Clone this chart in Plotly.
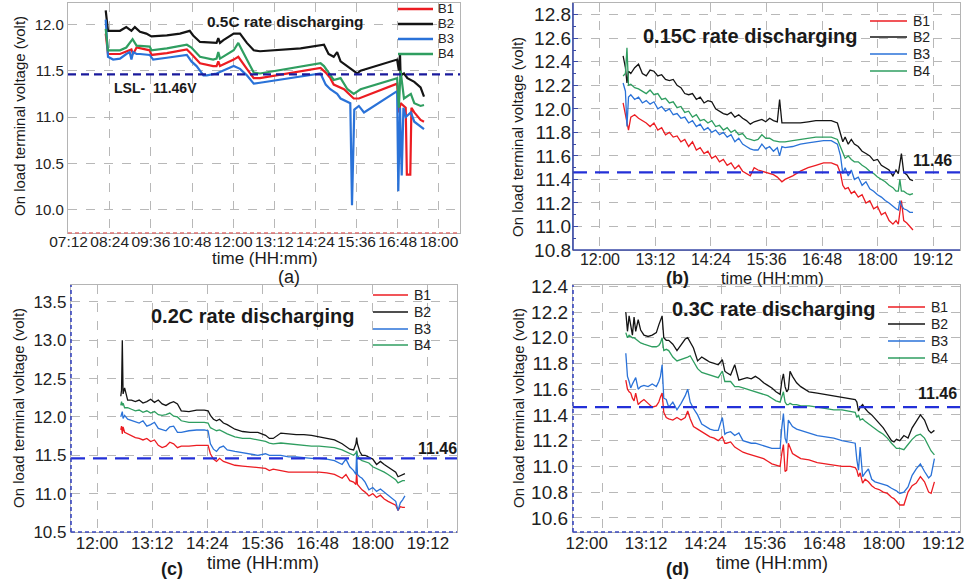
import plotly.graph_objects as go

W, H = 966, 580
FONT = "Liberation Sans, Arial, sans-serif"

series_names = ["B1", "B2", "B3", "B4"]
colors = {"B1": "#ec1c22", "B2": "#141414", "B3": "#2a72d8", "B4": "#2f9e60"}

time_ticks_a = ["07:12", "08:24", "09:36", "10:48", "12:00", "13:12", "14:24", "15:36", "16:48", "18:00"]
time_ticks_bcd = ["12:00", "13:12", "14:24", "15:36", "16:48", "18:00", "19:12"]
volt_ticks_a = [10.0, 10.5, 11.0, 11.5, 12.0]
volt_ticks_b = [10.8, 11.0, 11.2, 11.4, 11.6, 11.8, 12.0, 12.2, 12.4, 12.6, 12.8]
volt_ticks_c = [10.5, 11.0, 11.5, 12.0, 12.5, 13.0, 13.5]
volt_ticks_d = [10.6, 10.8, 11.0, 11.2, 11.4, 11.6, 11.8, 12.0, 12.2, 12.4]
lsl_value = 11.46
panel_titles = ["0.5C rate discharging", "0.15C rate discharging",
                "0.2C rate discharging", "0.3C rate discharging"]
panel_letters = ["(a)", "(b)", "(c)", "(d)"]

# ---------------- Panel (a): 0.5C (time in minutes after midnight) ----------------
a_t_B1 = [497, 501, 522, 542, 545, 551, 574, 577, 604, 639, 647, 662, 685, 691, 694, 697, 721, 729, 744, 756,
          767, 873, 882, 890, 896, 914, 931, 940, 1007, 1010, 1013, 1022, 1024, 1030, 1032, 1037, 1048, 1054]
a_v_B1 = [11.90, 11.68, 11.68, 11.73, 11.68, 11.75, 11.72, 11.67, 11.69, 11.73, 11.68, 11.58, 11.55, 11.55, 11.60,
          11.55, 11.62, 11.65, 11.52, 11.42, 11.42, 11.53, 11.48, 11.42, 11.35, 11.30, 11.20, 11.20, 11.36, 11.05,
          11.15, 11.10, 10.38, 10.38, 11.10, 11.05, 10.97, 10.95]
a_t_B2 = [497, 501, 522, 533, 542, 548, 557, 568, 577, 604, 627, 644, 650, 662, 691, 694, 697, 703, 721, 732,
          744, 756, 767, 838, 879, 887, 896, 902, 908, 920, 931, 937, 943, 1007, 1010, 1012, 1013, 1019, 1025, 1037,
          1048, 1054]
a_v_B2 = [12.15, 11.93, 11.93, 11.97, 11.93, 11.97, 11.92, 11.90, 11.87, 11.88, 11.90, 11.93, 11.88, 11.81, 11.80,
          11.85, 11.80, 11.83, 11.90, 11.90, 11.80, 11.72, 11.71, 11.74, 11.78, 11.68, 11.65, 11.70, 11.60, 11.55,
          11.50, 11.47, 11.50, 11.62, 11.50, 11.68, 11.45, 11.47, 11.42, 11.38, 11.32, 11.22]
a_t_B3 = [497, 501, 510, 522, 533, 539, 542, 545, 551, 557, 574, 580, 604, 639, 647, 656, 662, 668, 674, 691,
          721, 732, 744, 756, 767, 873, 882, 890, 902, 908, 925, 928, 932, 940, 949, 1007, 1009, 1012, 1015, 1018,
          1022, 1031, 1037, 1048, 1054]
a_v_B3 = [12.05, 11.65, 11.62, 11.63, 11.68, 11.70, 11.62, 11.70, 11.68, 11.68, 11.67, 11.62, 11.64, 11.67, 11.60,
          11.55, 11.50, 11.45, 11.45, 11.47, 11.55, 11.52, 11.45, 11.36, 11.37, 11.47, 11.35, 11.30, 11.25, 11.20,
          11.15, 10.05, 11.08, 11.12, 11.05, 11.28, 10.20, 11.10, 10.37, 11.10, 11.00, 11.05, 10.95, 10.90, 10.87]
a_t_B4 = [497, 501, 522, 533, 544, 551, 574, 577, 604, 639, 647, 662, 685, 691, 694, 697, 721, 729, 744, 756,
          767, 873, 879, 890, 896, 908, 920, 931, 943, 1007, 1010, 1013, 1019, 1031, 1037, 1048, 1054]
a_v_B4 = [11.95, 11.72, 11.72, 11.75, 11.84, 11.77, 11.76, 11.72, 11.74, 11.78, 11.75, 11.65, 11.62, 11.63, 11.70,
          11.63, 11.72, 11.80, 11.62, 11.48, 11.47, 11.58, 11.55, 11.45, 11.40, 11.42, 11.30, 11.25, 11.30, 11.42,
          11.10, 11.50, 11.20, 11.25, 11.15, 11.12, 11.13]

# ---------------- Panel (b): 0.15C ----------------
b_time = [750, 753, 755, 757, 760, 765, 770, 775, 780, 785, 790, 795, 800, 805, 810, 815, 820, 825, 830, 835,
          840, 845, 850, 855, 860, 865, 870, 875, 880, 885, 890, 895, 900, 905, 910, 915, 920, 925, 930, 935,
          940, 945, 950, 953, 956, 960, 970, 980, 990, 1000, 1010, 1020, 1028, 1032, 1035, 1038, 1042, 1046, 1050,
          1055, 1060, 1065, 1070, 1075, 1080, 1085, 1090, 1095, 1100, 1104, 1107, 1109, 1111, 1114, 1118, 1122,
          1126]
b_B1 = [12.05, 11.95, 11.88, 11.82, 11.93, 11.95, 11.92, 11.90, 11.88, 11.85,
        11.88, 11.82, 11.84, 11.78, 11.80, 11.76, 11.77, 11.72, 11.74, 11.68,
        11.72, 11.65, 11.67, 11.62, 11.64, 11.58, 11.60, 11.55, 11.57, 11.52,
        11.54, 11.49, 11.52, 11.47, 11.45, 11.43, 11.50, 11.48, 11.47, 11.46,
        11.45, 11.44, 11.42, 11.40, 11.38, 11.40, 11.43, 11.47, 11.50, 11.52,
        11.54, 11.54, 11.52, 11.45, 11.35, 11.32, 11.33, 11.28, 11.30, 11.25,
        11.27, 11.20, 11.22, 11.15, 11.17, 11.10, 11.12, 11.05, 11.02, 11.05,
        11.02, 11.12, 11.22, 11.05, 11.03, 11.00, 10.97]
b_B2 = [12.45, 12.35, 12.22, 12.32, 12.30, 12.35, 12.38, 12.30, 12.28, 12.33,
        12.32, 12.28, 12.29, 12.25, 12.24, 12.25, 12.20, 12.18, 12.13, 12.12,
        12.13, 12.08, 12.10, 12.05, 12.07, 12.06, 12.00, 11.98, 11.96, 11.95,
        11.97, 11.93, 11.95, 11.92, 11.90, 11.87, 11.89, 11.90, 11.91, 11.89,
        11.92, 11.90, 11.89, 12.08, 11.88, 11.88, 11.88, 11.88, 11.89, 11.90,
        11.90, 11.90, 11.88, 11.80, 11.72, 11.76, 11.70, 11.74, 11.70, 11.68,
        11.64, 11.62, 11.60, 11.56, 11.57, 11.52, 11.50, 11.48, 11.43, 11.48,
        11.45, 11.55, 11.62, 11.46, 11.44, 11.40, 11.39]
b_B3 = [12.22, 12.15, 11.85, 12.10, 12.12, 12.08, 12.10, 12.05, 12.07, 12.04,
        12.06, 12.00, 12.02, 11.98, 12.00, 11.95, 11.96, 11.92, 11.93, 11.88,
        11.90, 11.85, 11.87, 11.82, 11.84, 11.80, 11.82, 11.78, 11.80, 11.76,
        11.78, 11.72, 11.75, 11.70, 11.68, 11.66, 11.65, 11.65, 11.70, 11.66,
        11.68, 11.64, 11.67, 11.60, 11.68, 11.67, 11.68, 11.70, 11.71, 11.72,
        11.73, 11.73, 11.70, 11.60, 11.45, 11.50, 11.43, 11.48, 11.40, 11.42,
        11.35, 11.38, 11.32, 11.30, 11.27, 11.25, 11.22, 11.20, 11.17, 11.15,
        11.14, 11.22, 11.18, 11.15, 11.14, 11.12, 11.12]
b_B4 = [12.28, 12.30, 12.52, 12.20, 12.21, 12.18, 12.17, 12.15, 12.13, 12.16,
        12.12, 12.13, 12.08, 12.09, 12.05, 12.06, 12.01, 12.02, 11.97, 11.98,
        11.93, 11.95, 11.90, 11.91, 11.88, 11.90, 11.85, 11.86, 11.82, 11.84,
        11.80, 11.82, 11.78, 11.79, 11.75, 11.74, 11.73, 11.74, 11.78, 11.75,
        11.75, 11.73, 11.72, 11.72, 11.72, 11.72, 11.73, 11.74, 11.75, 11.76,
        11.76, 11.76, 11.74, 11.68, 11.62, 11.58, 11.60, 11.57, 11.55, 11.55,
        11.52, 11.50, 11.47, 11.45, 11.42, 11.40, 11.38, 11.35, 11.33, 11.30,
        11.30, 11.40, 11.30, 11.30, 11.28, 11.27, 11.28]

# ---------------- Panel (c): 0.2C ----------------
c_time = [751, 752, 753, 754, 756, 760, 765, 770, 775, 780, 785, 790, 795, 800, 805, 810, 815, 820, 825, 830,
          840, 850, 860, 865, 868, 872, 876, 880, 885, 890, 900, 910, 920, 930, 940, 945, 950, 960, 970, 980,
          990, 1000, 1010, 1020, 1030, 1040, 1045, 1050, 1055, 1058, 1059, 1060, 1063, 1066, 1070, 1075, 1080,
          1085, 1090, 1095, 1100, 1105, 1110, 1113, 1116, 1119, 1122]
c_B1 = [11.83, 11.88, 11.78, 11.87, 11.80, 11.78, 11.75, 11.73, 11.72, 11.70,
        11.72, 11.68, 11.70, 11.63, 11.60, 11.62, 11.67, 11.65, 11.60, 11.62,
        11.62, 11.63, 11.63, 11.63, 11.52, 11.45, 11.42, 11.46, 11.42, 11.40,
        11.37, 11.36, 11.35, 11.34, 11.33, 11.30, 11.32, 11.30, 11.28, 11.28,
        11.28, 11.28, 11.28, 11.27, 11.25, 11.20, 11.25, 11.17, 11.15, 11.12,
        11.28, 11.12, 11.08, 11.05, 11.02, 10.97, 11.00, 10.95, 10.98, 10.93,
        10.90, 10.88, 10.85, 10.78, 10.83, 10.82, 10.82]
c_B2 = [12.27, 12.35, 13.00, 12.30, 12.38, 12.22, 12.22, 12.20, 12.22, 12.18,
        12.20, 12.23, 12.19, 12.22, 12.17, 12.15, 12.18, 12.20, 12.17, 12.08,
        12.07, 12.09, 12.09, 12.08, 12.02, 11.97, 11.95, 11.97, 11.92, 11.90,
        11.84, 11.81, 11.80, 11.80, 11.76, 11.72, 11.72, 11.79, 11.78, 11.77,
        11.77, 11.76, 11.74, 11.72, 11.70, 11.65, 11.62, 11.58, 11.57, 11.65,
        11.73, 11.65, 11.55, 11.50, 11.50, 11.48, 11.45, 11.38, 11.42, 11.38,
        11.35, 11.32, 11.28, 11.22, 11.23, 11.24, 11.26]
c_B3 = [12.00, 12.05, 12.07, 11.98, 12.02, 11.97, 11.95, 11.93, 11.92, 11.95,
        11.88, 11.90, 11.93, 11.85, 11.83, 11.82, 11.87, 11.88, 11.80, 11.80,
        11.82, 11.83, 11.83, 11.82, 11.65, 11.58, 11.55, 11.60, 11.62, 11.57,
        11.55, 11.53, 11.52, 11.50, 11.52, 11.50, 11.50, 11.50, 11.48, 11.48,
        11.47, 11.46, 11.46, 11.45, 11.43, 11.38, 11.45, 11.35, 11.30, 11.25,
        11.55, 11.25, 11.22, 11.20, 11.15, 11.05, 11.08, 11.03, 11.06, 11.02,
        10.98, 10.95, 10.90, 10.78, 10.88, 10.92, 10.97]
c_B4 = [12.15, 12.20, 12.15, 12.18, 12.12, 12.12, 12.10, 12.08, 12.09, 12.06,
        12.08, 12.05, 12.07, 12.03, 12.02, 12.03, 12.05, 12.01, 12.00, 11.95,
        11.93, 11.93, 11.93, 11.92, 11.86, 11.84, 11.82, 11.83, 11.80, 11.78,
        11.74, 11.72, 11.72, 11.70, 11.68, 11.66, 11.65, 11.66, 11.65, 11.64,
        11.63, 11.62, 11.62, 11.61, 11.60, 11.57, 11.55, 11.52, 11.50, 11.53,
        11.56, 11.50, 11.45, 11.43, 11.42, 11.40, 11.35, 11.33, 11.30, 11.28,
        11.25, 11.22, 11.18, 11.14, 11.16, 11.17, 11.17]

# ---------------- Panel (d): 0.3C ----------------
d_time = [748, 750, 752, 754, 756, 758, 760, 763, 766, 770, 775, 780, 785, 788, 790, 792, 794, 797, 800, 805,
          810, 815, 820, 823, 826, 830, 835, 840, 845, 850, 855, 860, 865, 868, 870, 875, 880, 885, 890, 895,
          900, 905, 910, 915, 920, 925, 930, 935, 937, 939, 941, 943, 945, 947, 950, 955, 960, 970, 980, 990,
          1000, 1010, 1020, 1026, 1028, 1030, 1032, 1035, 1038, 1042, 1046, 1050, 1055, 1060, 1065, 1070, 1073,
          1076, 1080, 1085, 1090, 1095, 1100, 1105, 1110, 1115, 1118, 1122]
d_B1 = [11.67, 11.60, 11.58, 11.57, 11.53, 11.51, 11.57, 11.48, 11.50, 11.52,
        11.49, 11.46, 11.47, 11.50, 11.54, 11.57, 11.42, 11.38, 11.37, 11.36,
        11.38, 11.36, 11.38, 11.43, 11.37, 11.31, 11.29, 11.27, 11.25, 11.23,
        11.22, 11.20, 11.23, 11.18, 11.18, 11.19, 11.15, 11.13, 11.11, 11.10,
        11.09, 11.08, 11.07, 11.06, 11.04, 11.02, 11.01, 11.00, 11.10, 11.17,
        10.96, 10.97, 11.18, 11.15, 11.10, 11.08, 11.06, 11.05, 11.03, 11.02,
        11.01, 11.00, 11.00, 10.99, 10.97, 10.92, 10.95, 10.87, 10.90, 10.88,
        10.85, 10.83, 10.82, 10.80, 10.79, 10.76, 10.75, 10.73, 10.70, 10.70,
        10.80, 10.85, 10.87, 10.92, 10.88, 10.80, 10.79, 10.88]
d_B2 = [12.20, 12.05, 12.17, 12.08, 12.02, 12.16, 12.05, 12.14, 12.06, 12.02,
        12.01, 12.02, 12.04, 12.10, 12.14, 12.17, 12.00, 11.98, 11.98, 11.95,
        11.90, 11.95, 11.99, 12.00, 11.96, 11.92, 11.82, 11.85, 11.83, 11.81,
        11.80, 11.79, 11.83, 11.74, 11.73, 11.71, 11.79, 11.67, 11.68, 11.69,
        11.68, 11.70, 11.68, 11.65, 11.63, 11.61, 11.58, 11.56, 11.66, 11.72,
        11.62, 11.58, 11.60, 11.74, 11.70, 11.65, 11.62, 11.58, 11.57, 11.56,
        11.55, 11.54, 11.53, 11.52, 11.50, 11.43, 11.46, 11.48, 11.45, 11.42,
        11.40, 11.37, 11.34, 11.30, 11.25, 11.20, 11.19, 11.21, 11.20, 11.24,
        11.22, 11.30, 11.35, 11.40, 11.36, 11.28, 11.26, 11.28]
d_B3 = [11.88, 11.70, 11.66, 11.61, 11.64, 11.67, 11.69, 11.60, 11.62, 11.63,
        11.62, 11.64, 11.62, 11.66, 11.70, 11.79, 11.53, 11.52, 11.46, 11.50,
        11.44, 11.49, 11.55, 11.60, 11.50, 11.45, 11.40, 11.33, 11.31, 11.29,
        11.28, 11.28, 11.38, 11.25, 11.26, 11.27, 11.24, 11.26, 11.20, 11.19,
        11.18, 11.18, 11.17, 11.16, 11.15, 11.14, 11.14, 11.14, 11.30, 11.41,
        11.22, 11.18, 11.36, 11.34, 11.31, 11.29, 11.28, 11.26, 11.24, 11.23,
        11.22, 11.20, 11.19, 11.18, 11.05, 10.97, 11.15, 10.92, 10.95, 10.98,
        10.90, 10.88, 10.87, 10.86, 10.85, 10.83, 10.82, 10.81, 10.79, 10.80,
        10.84, 10.93, 10.98, 11.02, 10.96, 10.91, 10.93, 11.06]
d_B4 = [12.04, 12.00, 12.02, 12.01, 12.00, 12.00, 11.99, 11.98, 11.96, 11.95,
        11.94, 11.93, 11.93, 11.94, 11.96, 12.00, 11.90, 11.91, 11.90, 11.85,
        11.82, 11.83, 11.84, 11.85, 11.86, 11.81, 11.76, 11.73, 11.72, 11.71,
        11.70, 11.69, 11.74, 11.66, 11.66, 11.66, 11.62, 11.62, 11.61, 11.60,
        11.59, 11.58, 11.57, 11.56, 11.55, 11.53, 11.51, 11.50, 11.54, 11.58,
        11.50, 11.48, 11.48, 11.49, 11.48, 11.48, 11.47, 11.47, 11.46, 11.45,
        11.44, 11.44, 11.43, 11.42, 11.38, 11.40, 11.36, 11.37, 11.35, 11.33,
        11.31, 11.29, 11.27, 11.25, 11.22, 11.18, 11.16, 11.14, 11.14, 11.13,
        11.17, 11.21, 11.24, 11.25, 11.22, 11.15, 11.12, 11.09]


def hhmm_to_min(s):
    h, m = s.split(":")
    return int(h) * 60 + int(m)


def px(x):
    return x / W


def py(y):
    return 1 - y / H


panels = [
    dict(series={"B1": (a_t_B1, a_v_B1), "B2": (a_t_B2, a_v_B2), "B3": (a_t_B3, a_v_B3), "B4": (a_t_B4, a_v_B4)},
         xticks=time_ticks_a, yticks=volt_ticks_a,
         box=(68, 3, 460, 233), xrange=[431, 1117], yrange=[9.75, 12.23], lw=2.2,
         xfont=15.5, yfont=15, xstand=-6, xshift=0),
    dict(series={k: (b_time, v) for k, v in zip(series_names, [b_B1, b_B2, b_B3, b_B4])},
         xticks=time_ticks_bcd, yticks=volt_ticks_b,
         box=(573, 3, 960, 250), xrange=[685, 1187], yrange=[10.8, 12.9], lw=1.3,
         xfont=16, yfont=19, xstand=-5, xshift=0),
    dict(series={k: (c_time, v) for k, v in zip(series_names, [c_B1, c_B2, c_B3, c_B4])},
         xticks=time_ticks_bcd, yticks=volt_ticks_c,
         box=(71, 285, 457, 532), xrange=[686, 1190], yrange=[10.5, 13.72], lw=1.3,
         xfont=17, yfont=17, xstand=-5, xshift=0),
    dict(series={k: (d_time, v) for k, v in zip(series_names, [d_B1, d_B2, d_B3, d_B4])},
         xticks=time_ticks_bcd, yticks=volt_ticks_d,
         box=(573, 285, 960, 532), xrange=[684, 1153], yrange=[10.49, 12.41], lw=1.3,
         xfont=17, yfont=19, xstand=-5, xshift=-16),
]

fig = go.Figure()
layout = dict(width=W, height=H, margin=dict(l=0, r=0, t=0, b=0, autoexpand=False),
              paper_bgcolor="white", plot_bgcolor="white", showlegend=False,
              font=dict(family=FONT, color="#222"))
shapes, annotations = [], []

for i, p in enumerate(panels):
    n = "" if i == 0 else str(i + 1)
    xa, ya = "x" + n, "y" + n
    for name in series_names:
        t, v = p["series"][name]
        fig.add_trace(go.Scatter(x=t, y=v, mode="lines", name=name, xaxis=xa, yaxis=ya,
                                 line=dict(color=colors[name], width=p["lw"])))
    x0, y0, x1, y1 = p["box"]
    common = dict(showgrid=True, gridcolor="#b8b8b8", griddash="dash", gridwidth=1,
                  showline=True, linecolor="#b4b4b4", linewidth=1.2, mirror=True,
                  zeroline=False, automargin=False, ticklabeloverflow="allow")
    layout["xaxis" + n] = dict(domain=[px(x0), px(x1)], range=p["xrange"], anchor=ya, ticks="", tickangle=0,
                               tickvals=[hhmm_to_min(s) for s in p["xticks"]], ticktext=p["xticks"],
                               ticklabelstandoff=p["xstand"], ticklabelshift=p["xshift"],
                               tickfont=dict(size=p["xfont"], color="#222", family=FONT), **common)
    yax = dict(domain=[py(y1), py(y0)], range=p["yrange"], anchor=xa,
               tickvals=p["yticks"], ticktext=[f"{v:.1f}" for v in p["yticks"]],
               tickfont=dict(size=p["yfont"], color="#222", family=FONT), **common)
    if i == 1:
        yax.update(ticks="inside", ticklen=5, tickcolor="#3a4aa8", tickwidth=1.2, ticklabelstandoff=-3,
                   minor=dict(ticks="inside", ticklen=3, tickcolor="#3a4aa8", dtick=0.1, showgrid=False))
    else:
        yax.update(ticks="", ticklabelstandoff=0)
    layout["yaxis" + n] = yax
    # LSL reference line
    if i == 0:
        shapes.append(dict(type="line", xref=xa + " domain", yref=ya, x0=0, x1=1, y0=lsl_value, y1=lsl_value,
                           line=dict(color="#1a1a9c", width=2.2, dash="8px,5px")))
    else:
        shapes.append(dict(type="line", xref=xa + " domain", yref=ya, x0=0, x1=1, y0=lsl_value, y1=lsl_value,
                           line=dict(color="#2330d8", width=2.2, dash="14px,8px")))

# coloured axis lines as in the original figure
shapes.append(dict(type="line", xref="x domain", yref="y domain", x0=0, x1=1, y0=0, y1=0,
                   line=dict(color="#e07070", width=1.5, dash="4px,3px")))
shapes.append(dict(type="line", xref="x2 domain", yref="y2 domain", x0=0, x1=1, y0=0, y1=0,
                   line=dict(color="#3a4aa8", width=1.6)))
shapes.append(dict(type="line", xref="x2 domain", yref="y2 domain", x0=0, x1=0, y0=0, y1=1,
                   line=dict(color="#3a4aa8", width=1.6)))
for n in ["3", "4"]:
    shapes.append(dict(type="line", xref=f"x{n} domain", yref=f"y{n} domain", x0=0, x1=1, y0=0, y1=0,
                       line=dict(color="#3a48c0", width=1.6, dash="4px,3px")))
    shapes.append(dict(type="line", xref=f"x{n} domain", yref=f"y{n} domain", x0=0, x1=0, y0=0, y1=1,
                       line=dict(color="#3a48c0", width=1.6, dash="4px,3px")))

# legends (drawn manually to match the compact original spacing)
legend_pos = [
    dict(x0=398, x1=433, tx=437, ys=[9, 24, 39, 54], lw=2.4, size=13),
    dict(x0=870, x1=907, tx=912, ys=[21, 37, 54, 71], lw=1.6, size=14),
    dict(x0=373, x1=408, tx=413, ys=[295, 312, 329, 345], lw=1.6, size=14),
    dict(x0=888, x1=925, tx=930, ys=[307, 324, 341, 358], lw=1.6, size=14),
]
for lp in legend_pos:
    for name, yy in zip(series_names, lp["ys"]):
        shapes.append(dict(type="line", xref="paper", yref="paper", x0=px(lp["x0"]), x1=px(lp["x1"]),
                           y0=py(yy), y1=py(yy), line=dict(color=colors[name], width=lp["lw"])))
        annotations.append(dict(text=name, xref="paper", yref="paper", x=px(lp["tx"]), y=py(yy),
                                xanchor="left", yanchor="middle", showarrow=False, borderpad=0,
                                font=dict(size=lp["size"], color="#222", family=FONT)))


def ann(text, x, y, size, bold=False, angle=0):
    annotations.append(dict(text=f"<b>{text}</b>" if bold else text, xref="paper", yref="paper",
                            x=px(x), y=py(y), xanchor="center", yanchor="middle", showarrow=False,
                            borderpad=0, textangle=angle,
                            font=dict(size=size, color="#1a1a1a", family=FONT)))


# panel titles
ann(panel_titles[0], 285, 21, 15.4, bold=True)
ann(panel_titles[1], 750, 36, 20, bold=True)
ann(panel_titles[2], 252, 316, 20, bold=True)
ann(panel_titles[3], 773, 309, 20, bold=True)
# LSL labels
ann("LSL-  11.46V", 155, 88, 14, bold=True)
ann(f"{lsl_value:.2f}", 932, 160, 16, bold=True)
ann(f"{lsl_value:.2f}", 437, 448, 16, bold=True)
ann(f"{lsl_value:.2f}", 937, 393, 16, bold=True)
# axis titles
ytitle = "On load terminal voltage (volt)"
ann(ytitle, 20, 116, 15, angle=-90)
ann(ytitle, 518, 137, 15, angle=-90)
ann(ytitle, 18, 408, 15, angle=-90)
ann(ytitle, 518, 408, 15, angle=-90)
xtitle = "time (HH:mm)"
ann(xtitle, 265, 258, 17)
ann(xtitle, 772, 278, 16.5)
ann(xtitle, 263, 563, 18)
ann(xtitle, 772, 563, 18)
# panel letters
ann(panel_letters[0], 289, 277, 18)
ann(panel_letters[1], 677, 278, 18, bold=True)
ann(panel_letters[2], 172, 569, 18, bold=True)
ann(panel_letters[3], 677, 569, 18, bold=True)

layout["shapes"] = shapes
layout["annotations"] = annotations
fig.update_layout(**layout)
fig.write_html("out.html")
